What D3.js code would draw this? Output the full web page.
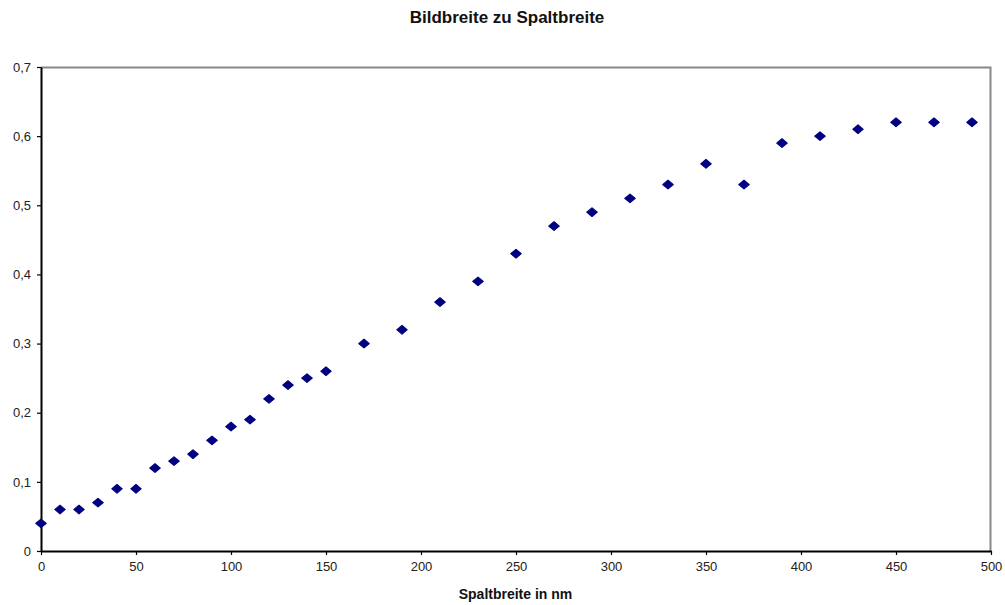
<!DOCTYPE html>
<html>
<head>
<meta charset="utf-8">
<script src="https://cdn.jsdelivr.net/npm/d3@7"></script>
<style>
  html, body { margin: 0; padding: 0; background: #fff; }
  svg { display: block; font-family: "Liberation Sans", Arial, sans-serif; }
</style>
</head>
<body>
<svg id="chart" width="1005" height="605"></svg>
<script>
// Slit width (nm) and resulting image width
const slitWidth = [0, 10, 20, 30, 40, 50, 60, 70, 80, 90, 100, 110, 120, 130, 140, 150,
  170, 190, 210, 230, 250, 270, 290, 310, 330, 350, 370, 390, 410, 430, 450, 470, 490];
const imageWidth = [0.04, 0.06, 0.06, 0.07, 0.09, 0.09, 0.12, 0.13, 0.14, 0.16, 0.18, 0.19, 0.22, 0.24, 0.25, 0.26,
  0.30, 0.32, 0.36, 0.39, 0.43, 0.47, 0.49, 0.51, 0.53, 0.56, 0.53, 0.59, 0.60, 0.61, 0.62, 0.62, 0.62];
const xTicks = [0, 50, 100, 150, 200, 250, 300, 350, 400, 450, 500];
const yTicks = [0, 0.1, 0.2, 0.3, 0.4, 0.5, 0.6, 0.7];

const svg = d3.select("#chart");
const plotL = 41, plotR = 991, plotT = 67, plotB = 551;

const x = d3.scaleLinear().domain([0, 500]).range([plotL, plotR]);
const y = d3.scaleLinear().domain([0, 0.7]).range([plotB, plotT]);

const fmt = d => String(d3.format(".1~f")(d)).replace(".", ",");

// Plot frame: grey top and right edges
svg.append("path")
  .attr("d", `M${plotL},${plotT + 0.5}H${plotR - 0.5}V${plotB}`)
  .attr("fill", "none").attr("stroke", "#888").attr("stroke-width", 2);

// Axes
const xAxis = svg.append("g").attr("transform", `translate(0,${plotB})`)
  .call(d3.axisBottom(x).tickValues(xTicks).tickSize(4).tickSizeOuter(0).tickPadding(7).tickFormat(d => d));
const yAxis = svg.append("g").attr("transform", `translate(${plotL},0)`)
  .call(d3.axisLeft(y).tickValues(yTicks).tickSize(4).tickSizeOuter(0).tickPadding(6).tickFormat(fmt));

[xAxis, yAxis].forEach(g => {
  g.select(".domain").attr("stroke", "#000").attr("stroke-width", 2);
  g.selectAll(".tick line").attr("stroke", "#000").attr("stroke-width", 1.2);
  g.selectAll(".tick text").attr("fill", "#222").style("font-size", "13px")
    .style("font-family", "'Liberation Sans', Arial, sans-serif");
});

// Data points as slightly flattened, rounded diamonds
const square = d3.symbol().type(d3.symbolSquare).size(38);
svg.append("g").selectAll("path")
  .data(slitWidth.map((s, i) => [s, imageWidth[i]]))
  .join("path")
  .attr("d", square)
  .attr("transform", d => `translate(${x(d[0])},${y(d[1])}) scale(1.2,1) rotate(45)`)
  .attr("fill", "#000080")
  .attr("stroke", "#000080")
  .attr("stroke-width", 1)
  .attr("stroke-linejoin", "round");

// Titles
svg.append("text").attr("x", 507).attr("y", 23).attr("text-anchor", "middle")
  .attr("fill", "#111")
  .style("font-size", "17px").style("font-weight", "bold").text("Bildbreite zu Spaltbreite");
svg.append("text").attr("x", 515.5).attr("y", 599).attr("text-anchor", "middle")
  .attr("fill", "#111")
  .style("font-size", "14px").style("font-weight", "bold").text("Spaltbreite in nm");
</script>
</body>
</html>
